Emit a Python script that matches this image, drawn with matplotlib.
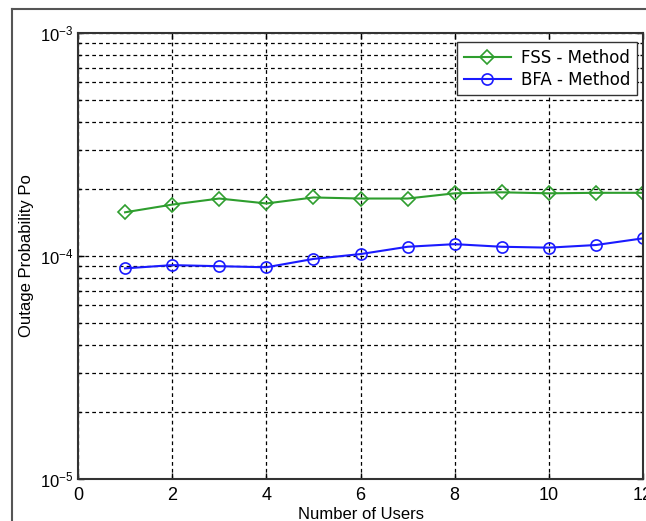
import matplotlib
matplotlib.use("Agg")
import matplotlib.pyplot as plt
from matplotlib.lines import Line2D
from matplotlib.ticker import LogLocator, NullFormatter

# Data
users = [1, 2, 3, 4, 5, 6, 7, 8, 9, 10, 11, 12]
fss_po = [1.57e-4, 1.70e-4, 1.81e-4, 1.72e-4, 1.83e-4, 1.81e-4,
          1.81e-4, 1.91e-4, 1.93e-4, 1.91e-4, 1.92e-4, 1.92e-4]
bfa_po = [0.88e-4, 0.91e-4, 0.90e-4, 0.89e-4, 0.97e-4, 1.02e-4,
          1.10e-4, 1.13e-4, 1.10e-4, 1.09e-4, 1.12e-4, 1.20e-4]
x_ticks = [0, 2, 4, 6, 8, 10, 12]

TICK_FONT = ['Liberation Sans Narrow', 'Liberation Sans', 'DejaVu Sans']

fig = plt.figure(figsize=(6.46, 5.21), dpi=100)
ax = fig.add_axes([0.1207, 0.0806, 0.8747, 0.8561])

ax.semilogy(users, fss_po, color='#2e9e2e', lw=1.5, marker='D', ms=7,
            mfc='none', mec='#2e9e2e', mew=1.2, label='FSS - Method')
ax.semilogy(users, bfa_po, color='#1a1aff', lw=1.5, marker='o', ms=8,
            mfc='none', mec='#1a1aff', mew=1.2, label='BFA - Method')

ax.set_xlim(0, 12)
ax.set_ylim(1e-5, 1e-3)
ax.set_xticks(x_ticks)
ax.set_xticklabels([str(t) for t in x_ticks], fontsize=13, family=TICK_FONT)
ax.yaxis.set_major_locator(LogLocator(base=10, numticks=5))
ax.yaxis.set_minor_locator(LogLocator(base=10, subs=range(2, 10), numticks=20))
ax.yaxis.set_minor_formatter(NullFormatter())
for lab in ax.get_yticklabels():
    lab.set_family(TICK_FONT)
    lab.set_fontsize(12)

ax.tick_params(which='both', direction='in', top=True, right=True, length=4, width=1)
ax.tick_params(which='minor', length=2.5)
ax.tick_params(axis='x', pad=6)

ax.grid(True, which='major', color='black', ls=(0, (3, 2.5)), lw=0.9)
ax.grid(True, which='minor', axis='y', color='black', ls=(0, (3, 2.5)), lw=0.9)
for s in ax.spines.values():
    s.set_linewidth(1.5)
    s.set_color('#333333')

ax.set_xlabel('Number of Users', fontsize=12, family=TICK_FONT, labelpad=2)
ax.set_ylabel('Outage Probability Po', fontsize=12, family=TICK_FONT, labelpad=4)

leg = ax.legend(loc='upper right', fontsize=12, frameon=True, fancybox=False,
                edgecolor='#333333', framealpha=1, borderpad=0.4, borderaxespad=0,
                handlelength=2.8, handletextpad=0.6, labelspacing=0.25,
                bbox_to_anchor=(0.989, 0.980))
leg.get_frame().set_linewidth(1.0)

# outer frame around the figure (cut off on the right and bottom)
fig.add_artist(Line2D([12 / 646, 12 / 646], [0, 1 - 9 / 521], transform=fig.transFigure,
                      color='#555555', lw=1.5))
fig.add_artist(Line2D([12 / 646, 1], [1 - 9 / 521, 1 - 9 / 521], transform=fig.transFigure,
                      color='#555555', lw=1.5))

fig.savefig('out.png', dpi=100)
